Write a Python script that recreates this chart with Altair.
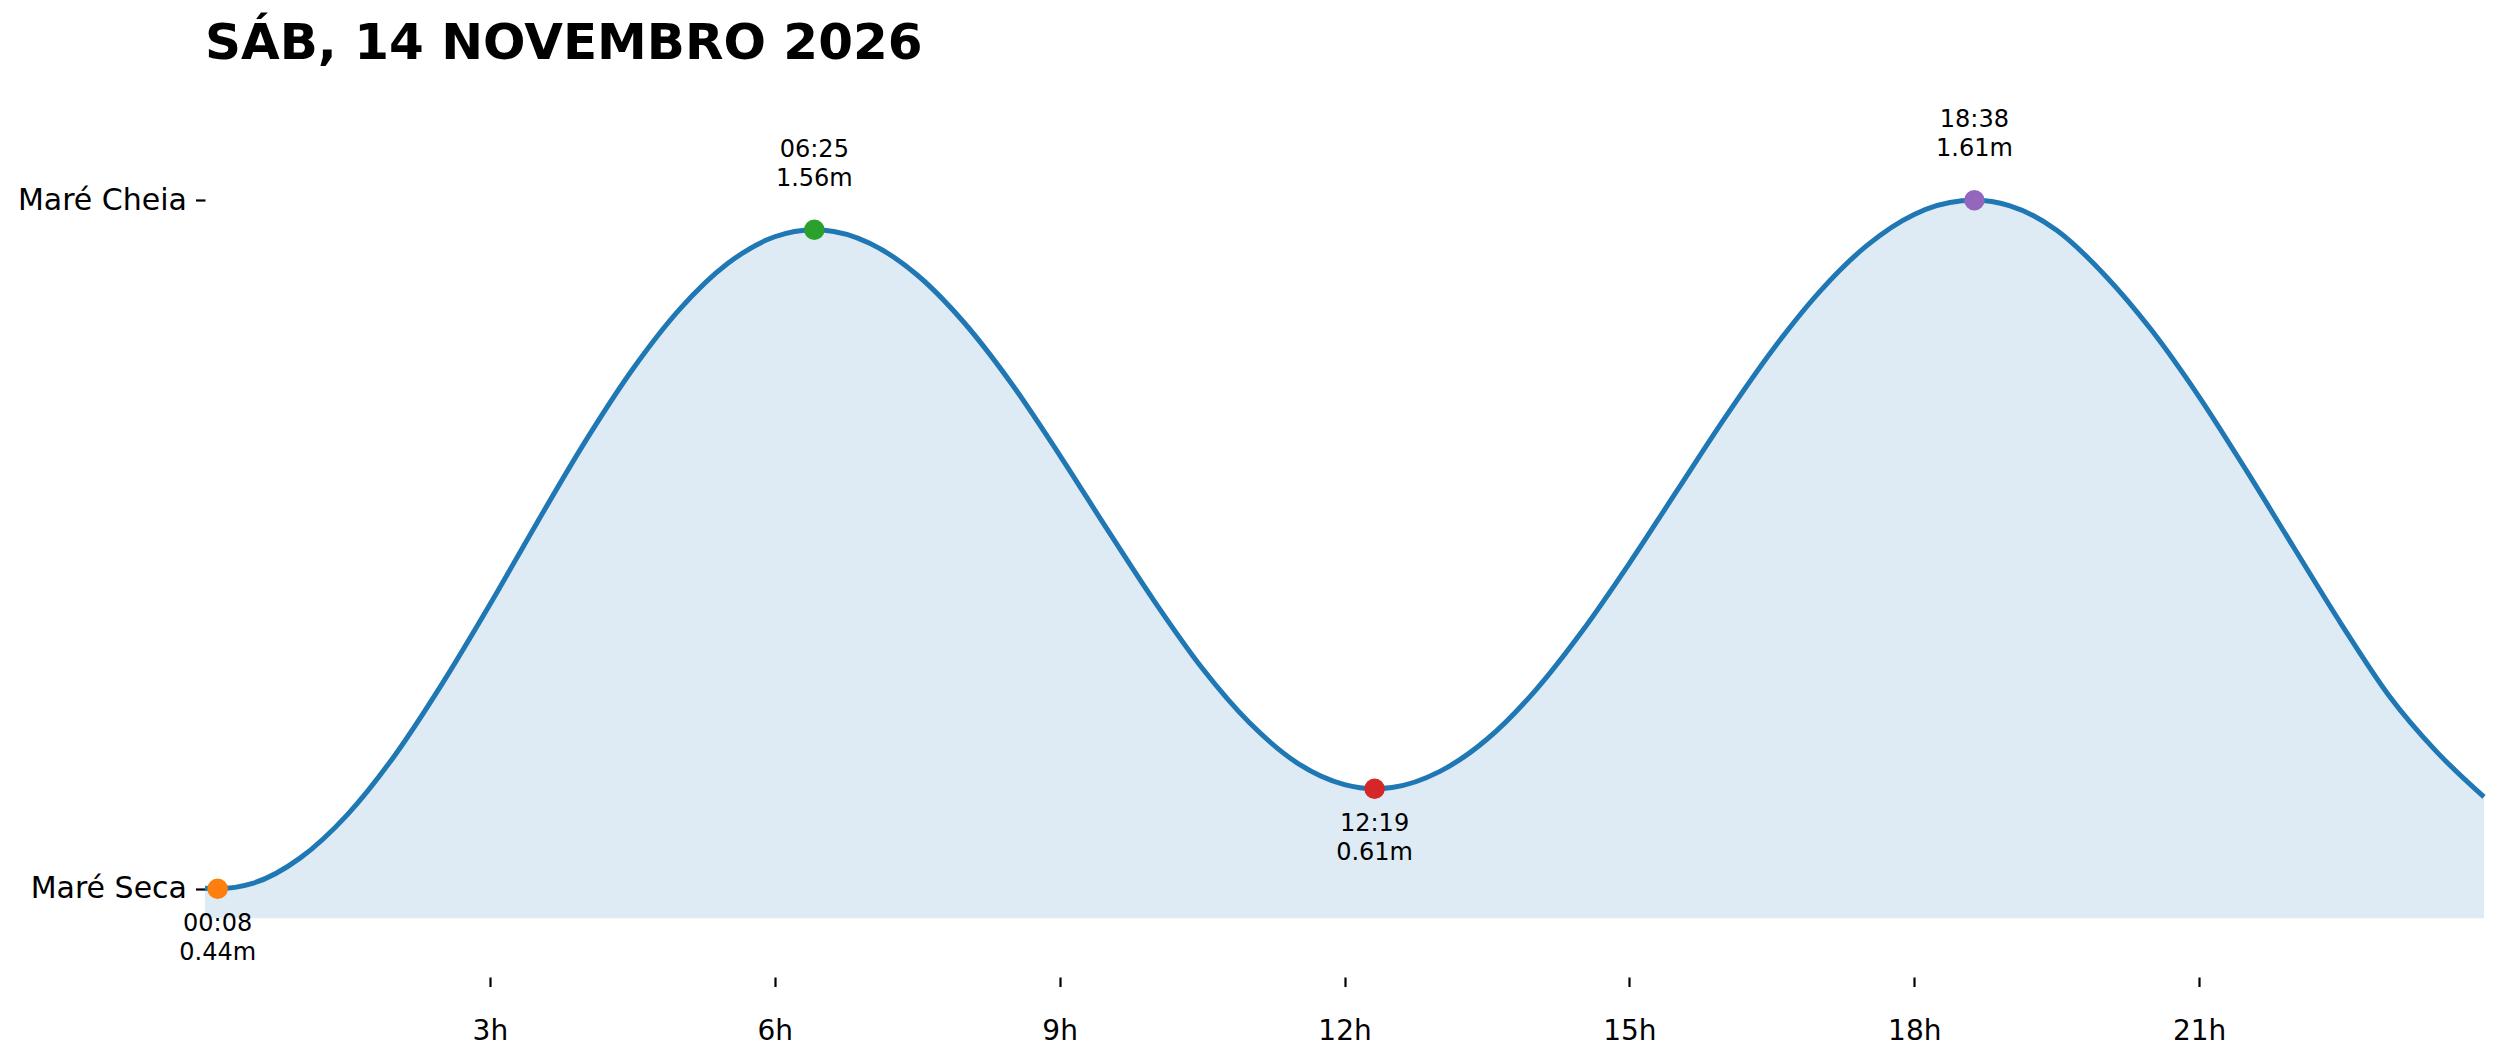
import altair as alt
import pandas as pd

# Tide curve (hour of day, height in m)
curve_hours = [0, 0.1333, 0.5, 1, 1.5, 2, 2.5, 3, 3.5, 4, 4.5, 5, 5.5, 6, 6.4167,
               6.5, 7, 7.5, 8, 8.5, 9, 9.5, 10, 10.5, 11, 11.5, 12, 12.3167,
               12.5, 13, 13.5, 14, 14.5, 15, 15.5, 16, 16.5, 17, 17.5, 18, 18.5, 18.6333,
               19, 19.5, 20, 20.5, 21, 21.5, 22, 22.5, 23, 23.5, 24]
curve_heights = [0.441, 0.44, 0.449, 0.492, 0.566, 0.667, 0.789, 0.923, 1.063, 1.199,
                 1.322, 1.425, 1.502, 1.548, 1.56,
                 1.5595, 1.537, 1.483, 1.401, 1.297, 1.177, 1.051, 0.928, 0.815, 0.722,
                 0.654, 0.617, 0.61,
                 0.612, 0.639, 0.694, 0.775, 0.877, 0.993, 1.116, 1.239, 1.354, 1.454,
                 1.533, 1.586, 1.609, 1.61,
                 1.601, 1.559, 1.484, 1.389, 1.276, 1.150, 1.019, 0.889, 0.768, 0.673,
                 0.596]

# Extremes
ext_labels = ["00:08", "06:25", "12:19", "18:38"]
ext_hours = [0.1333, 6.4167, 12.3167, 18.6333]
ext_heights = [0.44, 1.56, 0.61, 1.61]
ext_types = ["low", "high", "low", "high"]
ext_colors = ["#ff7f0e", "#2ca02c", "#d62728", "#9467bd"]

x_ticks = [3, 6, 9, 12, 15, 18, 21]
y_ticks = [0.44, 1.61]
y_tick_names = ["Maré Seca", "Maré Cheia"]
area_base = 0.39
title_text = "SÁB, 14 NOVEMBRO 2026"

curve = pd.DataFrame({"hour": curve_hours, "height": curve_heights})
curve["base"] = area_base
ext = pd.DataFrame({"hour": ext_hours, "height": ext_heights, "time": ext_labels,
                    "type": ext_types})
ext["label"] = ext["time"] + "\n" + ext["height"].map(lambda v: f"{v:.2f}m")

FONT = "DejaVu Sans"

x_scale = alt.Scale(domain=[0, 24], nice=False, zero=False)
y_scale = alt.Scale(domain=[0.29, 1.76], nice=False, zero=False)

x_axis = alt.Axis(values=x_ticks, labelExpr="datum.value + 'h'", title=None,
                  domain=False, grid=False, tickSize=9.5, tickWidth=2.2,
                  tickColor="black", labelFontSize=28, labelFont=FONT,
                  labelColor="black", labelPadding=31)
y_label_expr = f"datum.value > 1 ? '{y_tick_names[1]}' : '{y_tick_names[0]}'"
y_axis = alt.Axis(values=y_ticks, labelExpr=y_label_expr, title=None,
                  domain=False, grid=False, tickSize=9.5, tickWidth=2.2,
                  tickColor="black", labelFontSize=30, labelFont=FONT,
                  labelColor="black", labelPadding=9)

base = alt.Chart(curve)

area = base.mark_area(interpolate="monotone", color="#1f77b4", opacity=0.15).encode(
    x=alt.X("hour:Q", scale=x_scale, axis=x_axis),
    y=alt.Y("height:Q", scale=y_scale, axis=y_axis),
    y2="base:Q",
)

line = base.mark_line(interpolate="monotone", color="#1f77b4", strokeWidth=5).encode(
    x="hour:Q", y="height:Q"
)

points = alt.Chart(ext).mark_point(filled=True, opacity=1, size=420).encode(
    x="hour:Q", y="height:Q",
    color=alt.Color("time:N", scale=alt.Scale(domain=ext_labels, range=ext_colors),
                    legend=None),
)

text_high = alt.Chart(ext).transform_filter("datum.type == 'high'").mark_text(
    font=FONT, fontSize=24, lineBreak="\n", lineHeight=29, baseline="middle",
    align="center", dy=-80, color="black"
).encode(x="hour:Q", y="height:Q", text="label:N")

text_low = alt.Chart(ext).transform_filter("datum.type == 'low'").mark_text(
    font=FONT, fontSize=24, lineBreak="\n", lineHeight=29, baseline="middle",
    align="center", dy=35, color="black"
).encode(x="hour:Q", y="height:Q", text="label:N")

chart = alt.layer(area, line, points, text_high, text_low).properties(
    width=2279, height=865,
    title=alt.TitleParams(title_text, anchor="start", frame="group", font=FONT,
                          fontSize=50, fontWeight="bold", color="black",
                          baseline="alphabetic", offset=-1),
    autosize=alt.AutoSizeParams(type="none"),
    padding={"left": 197, "top": 104, "right": 5, "bottom": 70},
    background="white",
).configure_view(stroke=None)

chart.save("out.html", embed_options={"renderer": "svg", "actions": False})
